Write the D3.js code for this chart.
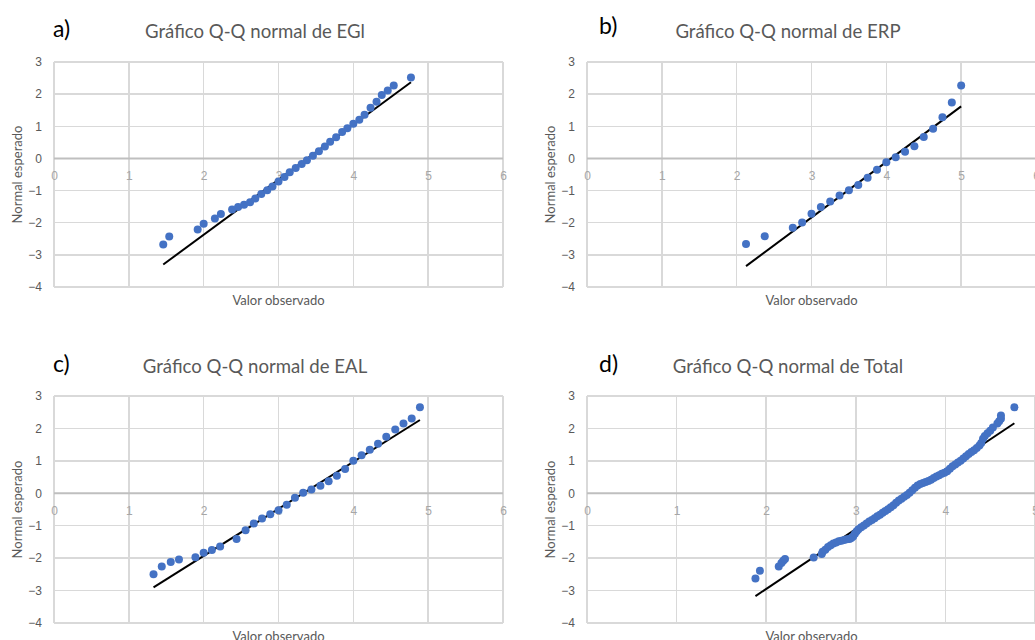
<!DOCTYPE html>
<meta charset="utf-8">
<head>
<style>
body{margin:0;background:#fff;}
svg{display:block;font-family:Lato,"Open Sans",sans-serif;}
.grid line{stroke:#d9d9d9;stroke-width:1.5px;shape-rendering:crispEdges;}
.zero{stroke:#bfbfbf;stroke-width:2px;}
.tick text{fill:#595959;font-size:12px;}
.xax .tick text{fill:#a6a6a6;}
.title{fill:#595959;font-size:18.6px;text-anchor:middle;}
.letter{fill:#000;font-size:23px;}
.axtitle{fill:#595959;font-size:13px;text-anchor:middle;}
.fit{stroke:#000;stroke-width:2px;fill:none;}
.dot{fill:#4472c4;}
</style>
</head>
<body>
<script src="https://cdnjs.cloudflare.com/ajax/libs/d3/7.8.5/d3.min.js"></script>
<script>

// values
var yTicks=[-4,-3,-2,-1,0,1,2,3];

var egiObs=[1.46,1.54,1.92,2.00,2.15,2.23,2.38,2.46,2.54,2.62,2.69,2.77,2.85,2.92,3.00,3.08,3.15,3.23,3.31,3.38,3.46,3.54,3.62,3.69,3.77,3.85,3.92,4.00,4.08,4.15,4.23,4.31,4.38,4.46,4.54,4.77];
var egiExp=[-2.68,-2.43,-2.21,-2.03,-1.87,-1.73,-1.59,-1.51,-1.44,-1.36,-1.25,-1.11,-0.99,-0.87,-0.72,-0.58,-0.43,-0.30,-0.17,-0.06,0.08,0.22,0.37,0.52,0.66,0.82,0.94,1.08,1.20,1.36,1.58,1.76,1.97,2.11,2.27,2.52];
var egiLine=[[1.46,-3.30],[4.77,2.37]];

var erpObs=[2.125,2.375,2.75,2.875,3,3.125,3.25,3.375,3.5,3.625,3.75,3.875,4,4.125,4.25,4.375,4.5,4.625,4.75,4.875,5];
var erpExp=[-2.66,-2.42,-2.16,-1.99,-1.72,-1.51,-1.34,-1.15,-0.99,-0.83,-0.60,-0.35,-0.12,0.04,0.21,0.38,0.67,0.92,1.28,1.74,2.27];
var erpLine=[[2.125,-3.35],[5.0,1.62]];

var ealObs=[1.33,1.44,1.56,1.67,1.89,2.00,2.11,2.22,2.44,2.56,2.67,2.78,2.89,3.00,3.11,3.22,3.33,3.44,3.56,3.67,3.78,3.89,4.00,4.11,4.22,4.33,4.44,4.56,4.67,4.78,4.89];
var ealExp=[-2.50,-2.26,-2.12,-2.04,-1.97,-1.83,-1.75,-1.64,-1.41,-1.14,-0.93,-0.78,-0.65,-0.52,-0.35,-0.14,0.02,0.12,0.23,0.37,0.54,0.75,1.00,1.17,1.34,1.53,1.74,1.97,2.15,2.31,2.65];
var ealLine=[[1.33,-2.90],[4.89,2.26]];

var totObs=[1.88,1.93,2.14,2.17,2.19,2.21,2.53,2.62,2.63,2.66,2.69,2.72,2.75,2.78,2.81,2.84,2.87,2.90,2.93,2.95,2.97,2.99,3.01,3.03,3.06,3.09,3.12,3.15,3.18,3.21,3.24,3.27,3.30,3.33,3.36,3.39,3.42,3.45,3.48,3.51,3.54,3.57,3.60,3.63,3.66,3.69,3.72,3.75,3.78,3.81,3.84,3.87,3.90,3.93,3.96,3.99,4.02,4.05,4.08,4.11,4.14,4.17,4.20,4.23,4.26,4.29,4.32,4.35,4.38,4.40,4.42,4.44,4.47,4.50,4.53,4.58,4.60,4.62,4.62,4.77];
var totExp=[-2.63,-2.39,-2.26,-2.15,-2.08,-2.03,-1.98,-1.87,-1.80,-1.74,-1.66,-1.60,-1.55,-1.52,-1.48,-1.46,-1.44,-1.42,-1.41,-1.38,-1.33,-1.25,-1.17,-1.11,-1.05,-0.99,-0.93,-0.87,-0.82,-0.77,-0.71,-0.66,-0.60,-0.55,-0.49,-0.43,-0.37,-0.29,-0.22,-0.17,-0.11,-0.05,0.02,0.09,0.17,0.24,0.29,0.32,0.35,0.38,0.42,0.47,0.52,0.56,0.60,0.63,0.68,0.76,0.83,0.89,0.95,1.00,1.07,1.14,1.21,1.27,1.33,1.40,1.47,1.55,1.68,1.77,1.85,1.93,2.03,2.15,2.22,2.30,2.40,2.65];
var totLine=[[1.88,-3.17],[4.77,2.16]];

var letters=["a)","b)","c)","d)"];
var titles=["Gráfico Q-Q normal de EGl","Gráfico Q-Q normal de ERP","Gráfico Q-Q normal de EAL","Gráfico Q-Q normal de Total"];
var xMaxes=[6,6,6,5];

var svg=d3.select("body").append("svg").attr("width",1035).attr("height",640);

var panels=[
	{obs:egiObs,exp:egiExp,line:egiLine,left:54,top:62,w:449,h:225,letterY:37},
	{obs:erpObs,exp:erpExp,line:erpLine,left:587,top:62,w:449,h:225,letterY:34},
	{obs:ealObs,exp:ealExp,line:ealLine,left:54,top:396,w:449,h:227,letterY:372},
	{obs:totObs,exp:totExp,line:totLine,left:587,top:396,w:448,h:227,letterY:372}
];

panels.forEach(function(p,i){
	var xMax=xMaxes[i];
	var x=d3.scaleLinear().domain([0,xMax]).range([0,p.w]);
	var y=d3.scaleLinear().domain([-4,3]).range([p.h,0]);
	var g=svg.append("g").attr("transform","translate("+p.left+","+p.top+")");

	// grid
	var grid=g.append("g").attr("class","grid");
	grid.selectAll(".h").data(yTicks).enter().append("line")
		.attr("x1",0).attr("x2",p.w).attr("y1",d=>y(d)).attr("y2",d=>y(d));
	grid.selectAll(".v").data(d3.range(0,xMax+1)).enter().append("line")
		.attr("y1",0).attr("y2",p.h).attr("x1",d=>x(d)).attr("x2",d=>x(d));
	g.append("line").attr("class","zero")
		.attr("x1",0).attr("x2",p.w).attr("y1",y(0)).attr("y2",y(0));

	// axes labels
	var ya=g.append("g").attr("class","yax")
		.call(d3.axisLeft(y).tickValues(yTicks).tickFormat(d3.format("d")).tickSize(0).tickPadding(12));
	ya.select(".domain").remove();
	var xa=g.append("g").attr("class","xax").attr("transform","translate(0,"+y(0)+")")
		.call(d3.axisBottom(x).tickValues(d3.range(0,xMax+1)).tickFormat(d3.format("d")).tickSize(0).tickPadding(13.5));
	xa.select(".domain").remove();
	g.selectAll(".tick text").attr("font-family",null);

	// fitted line
	g.append("path").attr("class","fit")
		.attr("d",d3.line().x(d=>x(d[0])).y(d=>y(d[1]))(p.line));

	// points
	g.selectAll(".dot").data(p.obs.map((v,k)=>[v,p.exp[k]])).enter().append("circle")
		.attr("class","dot").attr("r",4)
		.attr("cx",d=>x(d[0])).attr("cy",d=>y(d[1]));

	// texts
	svg.append("text").attr("class","letter").attr("x",i%2? 599:53).attr("y",p.letterY).text(letters[i]);
	svg.append("text").attr("class","title").attr("x",p.left+224-23).attr("y",p.letterY<100?38:372.5).text(titles[i]);
	g.append("text").attr("class","axtitle").attr("x",224.5).attr("y",p.h+18).text("Valor observado");
	g.append("text").attr("class","axtitle")
		.attr("transform","translate(-32,"+(p.h/2)+") rotate(-90)").text("Normal esperado");
});
</script>
</body>
</html>
